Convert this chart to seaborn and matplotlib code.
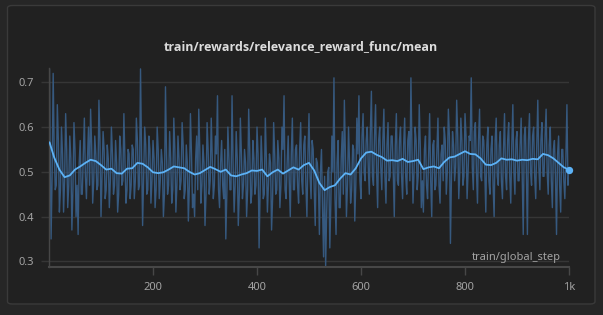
import numpy as np
import pandas as pd
import matplotlib
matplotlib.use("Agg")
import matplotlib.pyplot as plt
import seaborn as sns
from matplotlib.patches import FancyBboxPatch

# ---------------- data ----------------
title = "train/rewards/relevance_reward_func/mean"
x_label = "train/global_step"
x_ticks = [200, 400, 600, 800, 1000]
x_tick_labels = ["200", "400", "600", "800", "1k"]
y_ticks = [0.3, 0.4, 0.5, 0.6, 0.7]
y_tick_labels = ["0.3", "0.4", "0.5", "0.6", "0.7"]

# raw logged values (read at every 4th step, plus in-between steps)
raw_steps_a = [1] + list(range(4, 1001, 4))
raw_values_a = [
    0.73, 0.35, 0.72, 0.46, 0.65, 0.41, 0.60, 0.41, 0.63, 0.42,
    0.58, 0.37, 0.61, 0.40, 0.36, 0.57, 0.45, 0.62, 0.44, 0.60,
    0.64, 0.43, 0.58, 0.46, 0.66, 0.40, 0.59, 0.44, 0.56, 0.42,
    0.60, 0.45, 0.57, 0.41, 0.58, 0.47, 0.63, 0.43, 0.55, 0.44,
    0.56, 0.44, 0.62, 0.46, 0.73, 0.38, 0.60, 0.45, 0.58, 0.43,
    0.57, 0.42, 0.60, 0.44, 0.55, 0.40, 0.69, 0.45, 0.59, 0.43,
    0.62, 0.41, 0.58, 0.46, 0.61, 0.44, 0.56, 0.39, 0.63, 0.42,
    0.40, 0.58, 0.64, 0.43, 0.56, 0.38, 0.61, 0.45, 0.62, 0.44,
    0.58, 0.67, 0.42, 0.57, 0.44, 0.35, 0.60, 0.46, 0.67, 0.41,
    0.59, 0.38, 0.62, 0.44, 0.55, 0.40, 0.64, 0.43, 0.57, 0.45,
    0.60, 0.33, 0.58, 0.44, 0.62, 0.41, 0.54, 0.37, 0.61, 0.45,
    0.57, 0.42, 0.60, 0.67, 0.44, 0.58, 0.40, 0.62, 0.46, 0.56,
    0.43, 0.61, 0.45, 0.58, 0.40, 0.63, 0.44, 0.55, 0.38, 0.52,
    0.36, 0.55, 0.31, 0.29, 0.50, 0.33, 0.58, 0.71, 0.36, 0.57,
    0.42, 0.59, 0.66, 0.40, 0.60, 0.43, 0.56, 0.39, 0.62, 0.67,
    0.44, 0.63, 0.48, 0.60, 0.45, 0.68, 0.47, 0.65, 0.42, 0.60,
    0.46, 0.64, 0.43, 0.61, 0.49, 0.58, 0.40, 0.63, 0.47, 0.60,
    0.44, 0.62, 0.45, 0.59, 0.71, 0.43, 0.60, 0.46, 0.65, 0.42,
    0.41, 0.58, 0.44, 0.63, 0.40, 0.57, 0.47, 0.62, 0.43, 0.56,
    0.60, 0.45, 0.64, 0.34, 0.59, 0.48, 0.66, 0.44, 0.62, 0.47,
    0.63, 0.44, 0.58, 0.71, 0.46, 0.61, 0.43, 0.64, 0.48, 0.57,
    0.41, 0.60, 0.45, 0.58, 0.40, 0.62, 0.47, 0.59, 0.44, 0.63,
    0.46, 0.61, 0.43, 0.65, 0.45, 0.59, 0.48, 0.62, 0.36, 0.60,
    0.36, 0.63, 0.47, 0.60, 0.44, 0.66, 0.46, 0.61, 0.49, 0.64,
    0.45, 0.60, 0.42, 0.57, 0.36, 0.58, 0.41, 0.55, 0.44, 0.65,
    0.50,
]

raw_steps_b = list(range(2, 1000, 4))
raw_values_b = [
    0.58, 0.49, 0.55, 0.47, 0.57, 0.46, 0.54, 0.48, 0.55, 0.47,
    0.53, 0.46, 0.55, 0.47, 0.52, 0.45, 0.54, 0.49, 0.53, 0.47,
    0.56, 0.48, 0.54, 0.47, 0.57, 0.49, 0.55, 0.46, 0.53, 0.48,
    0.54, 0.47, 0.52, 0.45, 0.55, 0.48, 0.53, 0.46, 0.54, 0.47,
    0.55, 0.48, 0.57, 0.47, 0.54, 0.49, 0.56, 0.46, 0.55, 0.48,
    0.53, 0.46, 0.55, 0.48, 0.52, 0.45, 0.54, 0.47, 0.53, 0.46,
    0.55, 0.47, 0.53, 0.48, 0.56, 0.46, 0.52, 0.47, 0.54, 0.45,
    0.53, 0.46, 0.55, 0.47, 0.52, 0.45, 0.55, 0.48, 0.53, 0.47,
    0.54, 0.46, 0.52, 0.47, 0.55, 0.45, 0.53, 0.46, 0.52, 0.47,
    0.53, 0.45, 0.54, 0.47, 0.52, 0.46, 0.55, 0.45, 0.53, 0.47,
    0.54, 0.46, 0.52, 0.45, 0.53, 0.47, 0.52, 0.44, 0.54, 0.46,
    0.53, 0.47, 0.55, 0.46, 0.52, 0.48, 0.54, 0.46, 0.55, 0.47,
    0.55, 0.48, 0.56, 0.47, 0.54, 0.49, 0.57, 0.46, 0.53, 0.48,
    0.50, 0.42, 0.49, 0.41, 0.51, 0.43, 0.50, 0.44, 0.52, 0.42,
    0.53, 0.45, 0.54, 0.47, 0.52, 0.46, 0.55, 0.47, 0.54, 0.48,
    0.58, 0.50, 0.57, 0.51, 0.59, 0.49, 0.58, 0.50, 0.57, 0.51,
    0.57, 0.49, 0.56, 0.48, 0.58, 0.50, 0.56, 0.48, 0.57, 0.49,
    0.56, 0.49, 0.57, 0.48, 0.55, 0.50, 0.57, 0.49, 0.56, 0.48,
    0.55, 0.47, 0.54, 0.48, 0.56, 0.46, 0.55, 0.47, 0.54, 0.48,
    0.57, 0.50, 0.58, 0.49, 0.56, 0.51, 0.58, 0.50, 0.57, 0.49,
    0.58, 0.50, 0.57, 0.51, 0.59, 0.50, 0.57, 0.49, 0.58, 0.50,
    0.56, 0.48, 0.55, 0.47, 0.57, 0.49, 0.56, 0.48, 0.55, 0.49,
    0.57, 0.49, 0.56, 0.50, 0.57, 0.48, 0.56, 0.49, 0.58, 0.50,
    0.57, 0.50, 0.58, 0.49, 0.56, 0.51, 0.57, 0.49, 0.58, 0.50,
    0.56, 0.48, 0.55, 0.49, 0.54, 0.47, 0.55, 0.48, 0.53, 0.47,
]

smooth_steps = [1] + list(range(10, 1001, 10))
smooth_values = [
    0.566, 0.532, 0.505, 0.488, 0.492, 0.505, 0.512, 0.520, 0.527, 0.524,
    0.515, 0.505, 0.507, 0.497, 0.496, 0.507, 0.508, 0.520, 0.518, 0.510,
    0.499, 0.497, 0.499, 0.505, 0.512, 0.510, 0.508, 0.500, 0.494, 0.497,
    0.504, 0.511, 0.506, 0.500, 0.505, 0.492, 0.490, 0.494, 0.497, 0.503,
    0.502, 0.505, 0.490, 0.499, 0.505, 0.496, 0.503, 0.510, 0.505, 0.515,
    0.520, 0.503, 0.475, 0.459, 0.466, 0.470, 0.485, 0.497, 0.494, 0.508,
    0.530, 0.543, 0.545, 0.538, 0.533, 0.525, 0.526, 0.524, 0.529, 0.522,
    0.524, 0.527, 0.506, 0.510, 0.512, 0.508, 0.522, 0.532, 0.534, 0.540,
    0.546, 0.540, 0.539, 0.530, 0.516, 0.515, 0.520, 0.530, 0.527, 0.528,
    0.525, 0.527, 0.526, 0.529, 0.528, 0.540, 0.537, 0.530, 0.520, 0.510,
    0.505,
]

# ---------------- style ----------------
OUTER_BG = "#262626"
PANEL_BG = "#212121"
BORDER = "#3a3a3a"
GRID = "#363636"
SPINE = "#474747"
TEXT = "#a3a3a3"
TITLE_C = "#dcdcdc"
RAW_C = "#36597f"
SMOOTH_C = "#5cb2f6"

sns.set_theme(style="dark")
plt.rcParams["font.family"] = ["Noto Sans", "DejaVu Sans"]

W, H = 603, 315
fig = plt.figure(figsize=(W / 100, H / 100), dpi=100)
fig.patch.set_facecolor(OUTER_BG)

panel = FancyBboxPatch((7.5 / W, 1 - 304 / H), (595 - 7.5) / W, (304 - 5.5) / H,
                       boxstyle="round,pad=0,rounding_size=0.008",
                       transform=fig.transFigure, facecolor=PANEL_BG,
                       edgecolor=BORDER, linewidth=1.0, zorder=-10)
fig.patches.append(panel)

ax = fig.add_axes([49 / W, 1 - 266.7 / H, (569 - 49) / W, (266.7 - 68) / H])
ax.set_zorder(5)
ax.set_facecolor("none")

raw_df = pd.DataFrame({"step": raw_steps_a + raw_steps_b,
                       "value": raw_values_a + raw_values_b}).sort_values("step")
smooth_df = pd.DataFrame({"step": smooth_steps, "value": smooth_values})

sns.lineplot(data=raw_df, x="step", y="value", ax=ax, color=RAW_C,
             linewidth=1.0, estimator=None, sort=True, zorder=2)
sns.lineplot(data=smooth_df, x="step", y="value", ax=ax, color=SMOOTH_C,
             linewidth=1.3, estimator=None, zorder=3)
ax.scatter([smooth_steps[-1]], [smooth_values[-1]], s=28, color=SMOOTH_C,
           zorder=4, clip_on=False, linewidths=0)

ax.set_xlim(0, 1000)
ax.set_ylim(0.288, 0.732)

ax.set_yticks(y_ticks)
ax.set_yticklabels(y_tick_labels)
ax.set_xticks(x_ticks)
ax.set_xticklabels(x_tick_labels)

ax.grid(False)
for y in y_ticks:
    ax.axhline(y, color=GRID, linewidth=1.0, zorder=1)

ax.tick_params(axis="y", length=6, width=1.0, color=GRID, labelsize=8,
               labelcolor=TEXT, pad=5, left=True)
ax.tick_params(axis="x", length=6, width=1.0, color=SPINE, labelsize=8,
               labelcolor=TEXT, pad=5, bottom=True, direction="out")

for side in ["top", "right"]:
    ax.spines[side].set_visible(False)
ax.spines["left"].set_color(SPINE)
ax.spines["bottom"].set_color(SPINE)
ax.spines["left"].set_linewidth(1.0)
ax.spines["bottom"].set_linewidth(1.5)

ax.set_xlabel("")
ax.set_ylabel("")

ax.text(0.985, 0.045, x_label, transform=ax.transAxes, ha="right",
        va="center", fontsize=8, color=TEXT)

fig.text(301 / W, 1 - 47 / H, title, ha="center", va="center",
         fontsize=9, fontweight="bold", color=TITLE_C,
         family=["Open Sans", "DejaVu Sans"])

fig.savefig("out.png", dpi=100, facecolor=OUTER_BG)
